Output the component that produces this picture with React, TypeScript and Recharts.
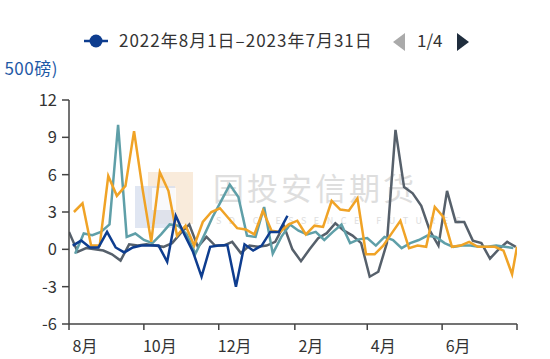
import React from "react";
import { LineChart, Line, XAxis, YAxis } from "recharts";

// x positions are days since Aug 1; each series is weekly
const monthTicks = [0, 61, 122, 184, 243, 304, 365];
const monthLabels = ["8月", "10月", "12月", "2月", "4月", "6月", ""];
const yTicks = [-6, -3, 0, 3, 6, 9, 12];

const legendLabel = "2022年8月1日–2023年7月31日";
const legendPage = "1/4";
const unitLabel = "500磅)";

const blueStart = 3;
const blueValues = [0.3, 0.7, 0.15, 0.15, 1.4, 0.15, -0.25, 0.15, 0.3, 0.3, 0.3, -1.0, 2.7, 1.2, -0.2, -2.2, 0.2, 0.3, 0.35, -3.0, 0.4, -0.1, 0.3, 1.4, 1.4, 2.7];

const orangeStart = 4;
const orangeValues = [3.0, 3.7, 0.3, 0.3, 5.9, 4.3, 5.1, 9.5, 4.8, 0.6, 6.2, 4.7, 1.1, 1.9, 0.3, 2.2, 3.0, 3.3, 2.5, 1.7, 1.6, 1.2, 3.1, 1.5, 1.4, 2.0, 2.3, 1.2, 1.9, 1.8, 3.9, 3.2, 3.1, 4.1, -0.4, -0.4, 0.3, 1.3, 2.3, 0.1, 0.3, 0.2, 3.4, 2.6, 0.2, 0.3, 0.6, 0.2, 0.2, 0.2, -0.1, -2.0];
const orangeLastDay = 365;
const orangeLastValue = 0.2;

const tealStart = 5;
const tealValues = [-0.35, 1.27, 1.13, 1.4, 2.0, 10.0, 1.0, 1.27, 0.75, 0.5, 1.2, 2.0, 1.9, 1.2, -0.35, 1.1, 2.6, 3.9, 5.2, 4.2, 1.1, 1.0, 3.4, -0.35, 1.0, 2.0, 1.5, 1.2, 1.4, 0.75, 1.4, 2.0, 0.5, 0.8, 0.9, 0.3, 1.0, 0.75, 0.1, 0.5, 0.75, 1.1, 1.0, 0.5, 0.2, 0.3, 0.3, 0.2, 0.2, 0.3, 0.2, 0.1];

const grayStart = 0;
const grayValues = [1.4, -0.2, 0.1, 0.0, -0.1, -0.4, -0.9, 0.4, 0.3, 0.4, 0.3, 0.2, 0.5, 1.3, 2.0, 0.2, 1.0, 0.3, 0.3, 0.6, -0.3, 0.3, 0.2, 0.3, 0.6, 1.9, 0.0, -0.95, 0.0, 0.9, 1.3, 2.1, 1.5, 1.1, 0.5, -2.2, -1.8, 0.5, 9.6, 5.0, 4.5, 3.5, 1.5, 0.3, 4.7, 2.2, 2.2, 0.7, 0.5, -0.75, 0.0, 0.6, 0.2];

const weekly = (start: number, values: number[]) =>
  values.map((v, i) => ({ day: start + i * 7, value: v }));

const blueData = weekly(blueStart, blueValues);
const orangeData = [...weekly(orangeStart, orangeValues), { day: orangeLastDay, value: orangeLastValue }];
const tealData = weekly(tealStart, tealValues);
const grayData = weekly(grayStart, grayValues);

const FONT = "'Noto Sans CJK SC', 'Noto Sans', sans-serif";

const MonthTick = (props: any) => {
  const { x, y, payload } = props;
  const i = monthTicks.indexOf(payload.value);
  return (
    <text x={x + 16} y={y + 20} textAnchor="middle" fontSize={16} fill="#333" fontFamily={FONT}>
      {monthLabels[i]}
    </text>
  );
};

export default function App() {
  return (
    <div style={{ position: "absolute", left: 0, top: 0, width: 550, height: 359, fontFamily: FONT, background: "#fff" }}>
      <svg width={550} height={359} style={{ position: "absolute", left: 0, top: 0 }}>
        <rect x={148} y={172} width={45} height={52} fill="#f7e2cc" opacity={0.7} />
        <rect x={135} y={186} width={40} height={42} fill="#d8e0ef" opacity={0.8} />
        <rect x={152} y={188} width={24} height={22} fill="#ffffff" opacity={0.8} />
        <text x={213} y={200} fontSize={31} fill="#dedede" letterSpacing={3} fontFamily={FONT}>国投安信期货</text>
        <text x={216} y={224} fontSize={9} fill="#dedede" letterSpacing={7.5} fontFamily={FONT}>SDIC ESSENCE FUTURES</text>
      </svg>
      <div style={{ position: "absolute", left: 0, top: 0 }}>
        <LineChart width={550} height={359} margin={{ top: 100, right: 33, bottom: 0, left: 9 }}>
          <XAxis
            type="number"
            dataKey="day"
            domain={[0, 365]}
            allowDataOverflow
            ticks={monthTicks}
            tick={<MonthTick />}
            tickSize={6}
            height={35}
            stroke="#444"
            strokeWidth={1.5}
          />
          <YAxis
            type="number"
            domain={[-6, 12]}
            ticks={yTicks}
            interval={0}
            width={60}
            tickSize={7}
            tickMargin={5}
            stroke="#444"
            strokeWidth={1.5}
            tick={{ fontSize: 16.5, fill: "#333", fontFamily: FONT }}
          />
          <Line data={grayData} dataKey="value" type="linear" stroke="#56606b" strokeWidth={2.5} dot={false} isAnimationActive={false} />
          <Line data={tealData} dataKey="value" type="linear" stroke="#5f9fa8" strokeWidth={2.5} dot={false} isAnimationActive={false} />
          <Line data={orangeData} dataKey="value" type="linear" stroke="#f0a326" strokeWidth={2.5} dot={false} isAnimationActive={false} />
          <Line data={blueData} dataKey="value" type="linear" stroke="#0e3d8f" strokeWidth={2.5} dot={false} isAnimationActive={false} />
        </LineChart>
      </div>
      <svg width={550} height={359} style={{ position: "absolute", left: 0, top: 0, pointerEvents: "none" }}>
        <line x1={84} y1={41} x2={108} y2={41} stroke="#0e3d8f" strokeWidth={2.5} />
        <circle cx={96} cy={41} r={6.5} fill="#0e3d8f" />
        <text x={119} y={47} fontSize={17} letterSpacing={1} fill="#333" fontFamily={FONT}>{legendLabel}</text>
        <polygon points="393,42 405,33 405,51" fill="#aaaaaa" />
        <text x={417} y={47} fontSize={17} fill="#333" fontFamily={FONT}>{legendPage}</text>
        <polygon points="457,33 469,42 457,51" fill="#1f2d3d" />
        <text x={58} y={75} textAnchor="end" fontSize={17} letterSpacing={0.5} fill="#1f5aa6" fontFamily={FONT}>{unitLabel}</text>
      </svg>
    </div>
  );
}
